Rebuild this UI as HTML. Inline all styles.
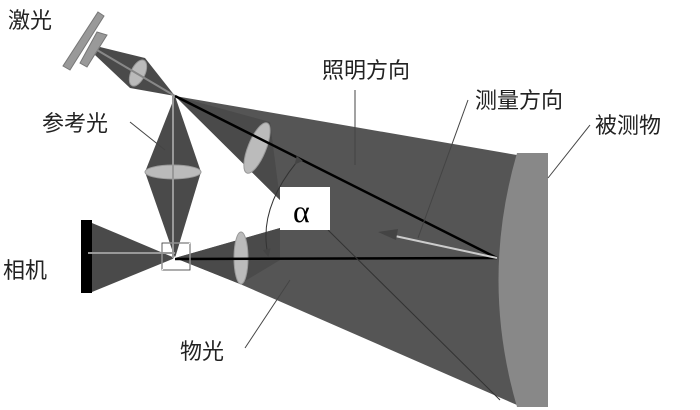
<!DOCTYPE html>
<html><head><meta charset="utf-8"><style>
html,body{margin:0;padding:0;background:#fff;width:700px;height:410px;overflow:hidden}
text{font-family:"Liberation Sans","Noto Sans CJK SC",sans-serif;font-size:22px;fill:#222}
</style></head><body>
<svg width="700" height="410" viewBox="0 0 700 410" xmlns="http://www.w3.org/2000/svg">
<defs>
<marker id="ah" markerWidth="8" markerHeight="8" refX="6" refY="4" orient="auto"><path d="M0,0 L8,4 L0,8 z" fill="#444"/></marker>
</defs>
<polygon points="175,96 517,155 517,405 240,284 175,258 280,228 280,200" fill="#555"/>
<polygon points="175,96 270,122 280,200" fill="#4a4a4a"/>
<polygon points="100,47 145,58 175,96 130,88 95,55" fill="#4a4a4a"/>
<polygon points="175,96 201,172 175,258 145,172" fill="#4a4a4a"/>
<polygon points="92,223 175,258 92,292" fill="#4a4a4a"/>
<polygon points="175,258 280,228 280,260 240,284" fill="#4a4a4a"/>
<path d="M517,153 L548,153 L548,407 L517,407 Q480,280 517,153 z" fill="#888"/>
<ellipse cx="138" cy="73" rx="7" ry="14" transform="rotate(25 138 73)" fill="#bbb" stroke="#999"/>
<ellipse cx="257" cy="148" rx="9" ry="27" transform="rotate(22 257 148)" fill="#bbb" stroke="#999"/>
<ellipse cx="173" cy="172" rx="28" ry="7" fill="#bbb" stroke="#999"/>
<ellipse cx="241" cy="258" rx="7" ry="26" fill="#bbb" stroke="#999"/>
<polygon points="98,12 104,16 70,70 63,66" fill="#999" stroke="#777"/>
<polygon points="97,32 107,35 87,67 80,63" fill="#999" stroke="#777"/>
<rect x="81" y="220" width="11" height="73" fill="#000"/>
<line x1="97" y1="50" x2="175" y2="96" stroke="#888" stroke-width="2"/>
<line x1="173" y1="96" x2="173" y2="258" stroke="#999" stroke-width="2"/>
<line x1="88" y1="253" x2="175" y2="253" stroke="#999" stroke-width="2"/>
<line x1="175" y1="96" x2="497" y2="258" stroke="#000" stroke-width="2.5"/>
<line x1="175" y1="259" x2="497" y2="258" stroke="#000" stroke-width="2.5"/>
<line x1="328" y1="230" x2="500" y2="400" stroke="#333" stroke-width="1"/>
<line x1="497" y1="258" x2="395" y2="236" stroke="#ccc" stroke-width="2"/>
<polygon points="378,232 398,229 396,240" fill="#444"/>
<rect x="162" y="243" width="28" height="27" fill="none" stroke="#fff" stroke-width="1.5"/>
<rect x="162" y="243" width="28" height="27" fill="none" stroke="#333" stroke-width="0.8"/>
<line x1="162" y1="270" x2="190" y2="243" stroke="#fff" stroke-width="1"/>
<path d="M296,163 Q258,210 268,255" fill="none" stroke="#333" stroke-width="1" marker-end="url(#ah)" marker-start="url(#ah)"/>
<rect x="280" y="187" width="50" height="43" fill="#fff"/>
<text x="293" y="222" style="font-family:'Liberation Serif',serif;font-size:32px;fill:#000">α</text>
<g stroke="#444" stroke-width="1">
<line x1="130" y1="122" x2="165" y2="150"/>
<line x1="355" y1="90" x2="355" y2="165"/>
<line x1="468" y1="100" x2="418" y2="238"/>
<line x1="590" y1="125" x2="548" y2="178"/>
<line x1="245" y1="348" x2="290" y2="280"/>
</g>
<text x="8" y="28">激光</text>
<text x="322" y="78">照明方向</text>
<text x="475" y="108">测量方向</text>
<text x="595" y="133">被测物</text>
<text x="42" y="131">参考光</text>
<text x="3" y="278">相机</text>
<text x="180" y="359">物光</text>
</svg>
</body></html>
